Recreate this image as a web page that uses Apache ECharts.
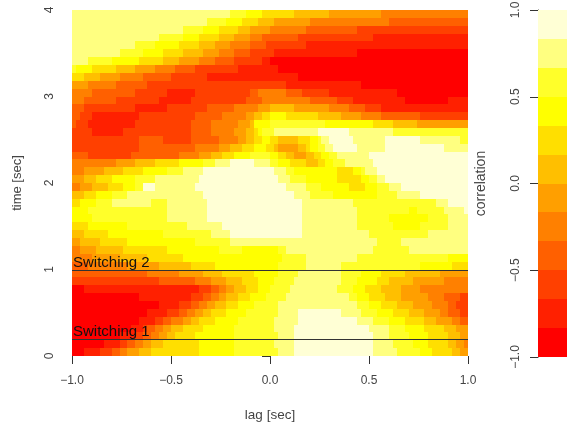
<!DOCTYPE html>
<html><head><meta charset="utf-8">
<style>html,body{margin:0;padding:0;background:#fff}#c{width:567px;height:427px}</style>
<script src="https://cdn.jsdelivr.net/npm/echarts@6/dist/echarts.min.js"></script>
</head><body><div id="c"></div>
<script>
// correlation bands: index 0 is the lowest band (-1 .. -0.833), 11 the highest
const bandColors = ['#FF0000','#FF2000','#FF4000','#FF6000','#FF8000','#FF9F00','#FFBF00','#FFDF00','#FFFF00','#FFFF2A','#FFFF80','#FFFFD5'];
const lagRange = [-1, 1];
const timeRange = [0, 4];
const lagTicks = 0.5, timeTicks = 1, corrTicks = 0.5;
const switchTimes = [0.2, 1];
const switchNames = ['Switching 1', 'Switching 2'];
// Top row first (time 4 down to 0); each row: band, end of run
// on a 0..100 scale across lag, band, end of run, ...
const bandRuns = [
[10,40,9,44,8,48,7,56,6,65,5,78,4,100],
[10,34,9,39,8,43,7,47,6,51,5,60,4,80,3,100],
[10,28,9,33,8,37,7,42,6,45,5,50,4,59,3,72,2,100],
[10,22,9,28,8,32,7,37,6,41,5,45,4,48,3,57,2,76,1,100],
[10,16,9,21,8,27,7,32,6,36,5,40,4,45,3,49,2,59,1,100],
[10,12,9,18,8,23,7,28,6,33,5,37,4,41,3,45,2,51,1,72,0,100],
[10,4,9,10,8,17,7,23,6,27,5,32,4,36,3,41,2,48,1,50,0,100],
[9,1,8,5,7,11,6,16,5,21,4,26,3,31,2,42,1,52,0,100],
[7,3,6,7,5,12,4,18,3,25,2,34,1,57,0,100],
[5,4,4,11,3,19,2,54,1,73,0,100],
[4,5,3,16,2,24,1,31,2,45,3,47,4,54,3,58,2,65,1,82,0,100],
[4,3,3,11,2,22,1,30,2,44,3,48,4,60,3,67,2,71,1,84,0,95,1,100],
[3,3,2,16,1,24,2,34,3,41,4,47,5,50,6,56,5,65,4,70,3,74,2,78,1,100],
[3,2,2,5,1,17,2,31,3,38,4,44,5,46,6,48,7,50,8,54,7,62,6,68,5,73,4,78,3,88,2,100],
[3,1,2,4,1,16,2,30,3,35,4,42,5,45,6,46,8,50,9,64,8,76,7,81,6,87,5,100],
[2,5,1,13,2,30,3,35,4,41,5,44,6,46,7,47,8,48,9,51,10,62,11,70,10,81,9,100],
[2,17,3,23,2,30,3,37,4,42,5,44,6,46,7,48,8,50,7,52,6,57,7,60,8,62,9,63,10,65,11,71,10,79,11,88,10,98,9,100],
[2,17,3,31,4,37,5,40,6,43,7,46,8,49,7,51,6,52,5,57,6,59,7,60,8,62,9,64,10,66,11,72,10,79,11,94,10,100],
[3,4,2,15,3,27,4,32,5,35,6,38,7,41,8,45,9,50,8,52,7,54,6,56,5,59,6,61,7,63,8,65,9,67,10,75,11,100],
[4,11,5,16,6,21,7,27,8,33,9,36,10,40,11,46,10,50,9,52,8,55,7,59,6,62,7,64,8,66,9,69,10,76,11,100],
[4,3,5,8,6,13,7,18,8,24,9,28,10,33,11,51,10,54,9,56,8,67,7,71,8,73,9,74,10,77,11,100],
[5,3,6,6,7,10,8,16,9,21,10,32,11,52,10,55,9,59,8,67,7,73,8,75,9,77,10,79,11,100],
[4,2,5,5,6,9,7,13,8,16,9,18,11,21,10,31,11,54,10,59,9,63,8,70,7,74,8,77,9,80,10,83,11,100],
[6,3,7,6,8,10,9,14,10,33,11,56,10,60,9,66,8,77,9,82,10,88,11,100],
[7,2,8,6,9,10,10,20,9,24,10,34,11,58,10,71,9,92,10,95,11,100],
[8,4,9,24,10,34,11,58,10,72,9,85,8,87,9,94,10,99,11,100],
[8,5,9,24,10,34,11,58,10,72,9,80,8,90,9,95,10,100],
[7,4,8,14,9,29,10,38,11,58,10,72,9,81,8,88,9,95,10,100],
[6,3,7,9,8,23,9,35,10,40,11,58,10,75,9,90,10,100],
[5,2,6,7,7,14,8,31,9,40,10,77,9,83,10,100],
[4,2,5,6,6,13,7,24,8,37,9,43,8,52,9,54,10,76,9,85,10,100],
[4,5,5,12,6,19,7,28,8,53,9,59,10,72,9,95,8,100],
[3,4,4,14,5,22,6,30,7,36,8,52,9,59,10,68,9,88,8,96,7,100],
[3,19,4,27,5,33,6,38,7,46,8,52,9,57,10,68,9,73,8,78,7,84,6,93,5,100],
[2,22,3,31,4,35,5,39,6,43,7,47,8,51,9,56,10,68,9,72,8,77,7,80,6,86,5,94,4,100],
[0,3,1,32,2,35,3,37,4,39,5,41,6,44,7,47,8,50,9,55,10,67,9,71,8,74,7,78,6,83,5,88,4,100],
[0,17,1,30,2,33,3,35,4,37,5,39,6,42,7,45,8,49,9,54,10,70,9,72,8,75,7,79,6,83,5,90,4,94,3,98,2,100],
[0,22,1,27,2,30,3,32,4,34,5,36,6,39,7,42,8,46,9,52,10,72,9,75,8,78,7,82,6,86,5,91,4,95,3,97,2,100],
[0,19,1,24,2,27,3,29,4,31,5,33,6,35,7,39,8,44,9,52,10,57,11,68,10,73,9,77,8,81,7,85,6,89,5,93,4,95,3,98,2,100],
[0,17,1,21,2,23,3,25,4,28,5,30,6,32,7,36,8,42,9,51,10,57,11,72,10,76,9,80,8,84,7,89,6,92,5,96,4,98,3,100],
[0,15,1,18,2,19,3,21,4,23,5,25,6,28,7,33,8,41,9,51,10,56,11,75,10,80,9,84,8,89,7,94,6,97,5,100],
[0,12,1,16,2,18,3,20,4,22,5,24,6,26,7,31,8,41,9,52,10,56,11,76,10,80,9,85,8,90,7,95,6,98,5,100],
[0,8,1,12,2,14,3,16,4,18,5,20,6,23,7,32,8,41,9,51,10,56,11,76,10,81,9,86,8,90,7,95,6,97,5,99,4,100],
[0,3,1,7,2,10,3,12,4,14,5,17,6,20,7,32,8,41,9,52,10,56,11,76,10,82,9,88,8,91,7,96,6,98,5,100]
];

const minus = s => String(s).replace('-', '\u2212');
const lagSpan = lagRange[1] - lagRange[0], timeSpan = timeRange[1] - timeRange[0];
const rowStep = timeSpan / bandRuns.length;
const cells = [];
bandRuns.forEach((runs, r) => {
  let start = 0;
  for (let i = 0; i < runs.length; i += 2) {
    const end = runs[i + 1];
    cells.push([
      lagRange[0] + start / 100 * lagSpan,
      lagRange[0] + end / 100 * lagSpan,
      timeRange[1] - (r + 1) * rowStep,
      timeRange[1] - r * rowStep,
      runs[i]
    ]);
    start = end;
  }
});
const barCells = bandColors.map((_, i) => [0, 1, -1 + i / 6, -1 + (i + 1) / 6, i]);

function renderBand(params, api) {
  const a = api.coord([api.value(0), api.value(3)]);
  const b = api.coord([api.value(1), api.value(2)]);
  const x = Math.round(a[0]), y = Math.round(a[1]);
  return {
    type: 'rect',
    shape: { x, y, width: Math.round(b[0]) - x, height: Math.round(b[1]) - y },
    style: { fill: bandColors[api.value(4)] }
  };
}
const bandEncode = { x: [0, 1], y: [2, 3] };
const font = '"Liberation Sans", Arial, sans-serif';
const axisColor = '#333', textColor = '#444';

const chart = echarts.init(document.getElementById('c'), null, { renderer: 'canvas' });
chart.setOption({
  animation: false,
  backgroundColor: '#fff',
  textStyle: { fontFamily: font },
  grid: [
    { left: 72, top: 10, width: 396, height: 346, containLabel: false, outerBoundsMode: 'none' },
    { left: 538, top: 10, width: 29, height: 347, containLabel: false, outerBoundsMode: 'none' }
  ],
  xAxis: [
    { type: 'value', gridIndex: 0, min: lagRange[0], max: lagRange[1], interval: lagTicks,
      name: 'lag [sec]', nameLocation: 'middle', nameGap: 52,
      nameTextStyle: { color: textColor, fontSize: 13.5, fontFamily: font },
      splitLine: { show: false }, axisLine: { show: false },
      axisTick: { show: true, length: 8, lineStyle: { color: axisColor, width: 1 } },
      axisLabel: { color: textColor, fontSize: 12, margin: 19, fontFamily: font, hideOverlap: false, showMinLabel: true, showMaxLabel: true,
        formatter: v => minus(v.toFixed(1)) } },
    { type: 'value', gridIndex: 1, min: 0, max: 1, show: false }
  ],
  yAxis: [
    { type: 'value', gridIndex: 0, min: timeRange[0], max: timeRange[1], interval: timeTicks,
      name: 'time [sec]', nameLocation: 'middle', nameGap: 48, nameRotate: 90,
      nameTextStyle: { color: textColor, fontSize: 13, fontFamily: font },
      splitLine: { show: false }, axisLine: { show: false },
      axisTick: { show: true, length: 8, lineStyle: { color: axisColor, width: 1 } },
      axisLabel: { color: textColor, fontSize: 12, margin: 22, rotate: 90, fontFamily: font, verticalAlign: 'middle', align: 'center',
        showMinLabel: true, showMaxLabel: true, formatter: v => String(v) } },
    { type: 'value', gridIndex: 1, min: -1, max: 1, interval: corrTicks,
      name: 'correlation', nameLocation: 'middle', nameGap: 50, nameRotate: 90,
      nameTextStyle: { color: textColor, fontSize: 14, fontFamily: font },
      splitLine: { show: false },
      axisLine: { show: true, lineStyle: { color: axisColor, width: 1 } },
      axisTick: { show: true, length: 8, lineStyle: { color: axisColor, width: 1 } },
      axisLabel: { color: textColor, fontSize: 12, margin: 22, rotate: 90, fontFamily: font, verticalAlign: 'middle', align: 'center',
        showMinLabel: true, showMaxLabel: true, formatter: v => minus(v.toFixed(1)) } }
  ],
  series: [
    { type: 'custom', xAxisIndex: 0, yAxisIndex: 0, data: cells, encode: bandEncode, renderItem: renderBand, clip: false, silent: true, z: 1 },
    { type: 'custom', xAxisIndex: 1, yAxisIndex: 1, data: barCells, encode: bandEncode, renderItem: renderBand, clip: false, silent: true, z: 1 },
    { type: 'custom', xAxisIndex: 0, yAxisIndex: 0, silent: true, z: 5, clip: false,
      data: switchTimes.map((t, i) => [t, i]),
      encode: { y: 0 },
      renderItem(params, api) {
        const a = api.coord([lagRange[0], api.value(0)]);
        const b = api.coord([lagRange[1], api.value(0)]);
        const y = Math.round(a[1]) + 0.5;
        return { type: 'group', children: [
          { type: 'line', shape: { x1: a[0], y1: y, x2: b[0], y2: y }, style: { stroke: '#333', lineWidth: 1 } },
          { type: 'text', style: { x: a[0] + 1, y: y, text: switchNames[api.value(1)], fill: '#111',
              font: '15px ' + font, textAlign: 'left', textVerticalAlign: 'bottom' } }
        ] };
      }
    }
  ]
});
</script></body></html>
